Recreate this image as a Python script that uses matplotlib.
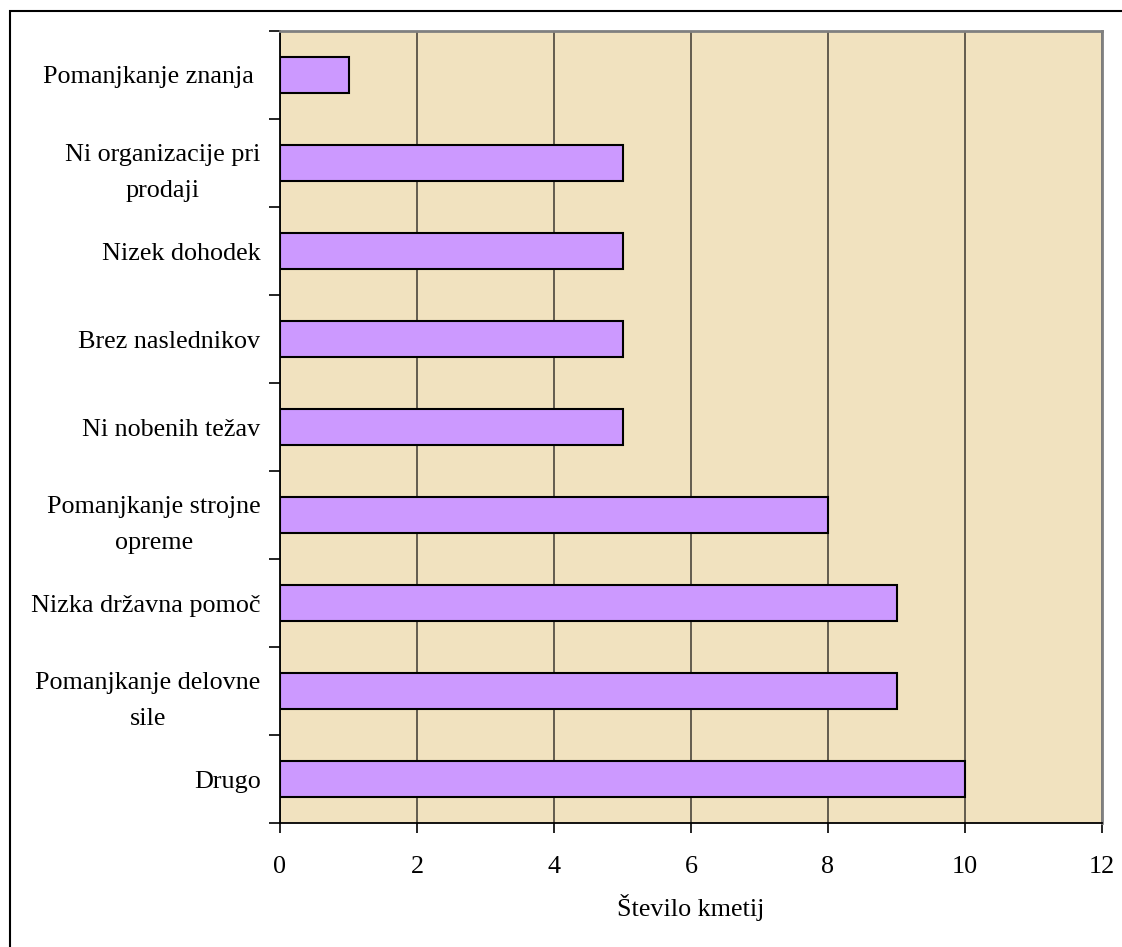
import matplotlib
matplotlib.use("Agg")
import matplotlib.pyplot as plt
from matplotlib.patches import Rectangle

plt.rcParams['font.family'] = ['Liberation Serif', 'DejaVu Serif']

categories = [
    "Drugo",
    "Pomanjkanje delovne\nsile",
    "Nizka državna pomoč",
    "Pomanjkanje strojne\nopreme",
    "Ni nobenih težav",
    "Brez naslednikov",
    "Nizek dohodek",
    "Ni organizacije pri\nprodaji",
    "Pomanjkanje znanja ",
]
values = [10, 9, 9, 8, 5, 5, 5, 5, 1]
xticks = [0, 2, 4, 6, 8, 10, 12]
xlabel = "Število kmetij"

W, H = 1122, 947
fig = plt.figure(figsize=(W / 100, H / 100), dpi=100)
fig.patch.set_facecolor("white")

# outer frame (left and top visible)
fig.add_artist(Rectangle((10 / W, -0.05), 1.2, (1 - 11 / H) + 0.05,
                         transform=fig.transFigure, fill=False,
                         edgecolor="black", linewidth=1.5))

left, right, top, bottom = 280, 1102, 31, 823
ax = fig.add_axes([left / W, 1 - bottom / H, (right - left) / W, (bottom - top) / H])
ax.set_facecolor("#F1E2BF")

ypos = list(range(len(categories)))
ax.barh(ypos, values, height=0.41, color="#CC99FF", edgecolor="black",
        linewidth=1.5, zorder=3)

ax.set_xlim(0, 12)
ax.set_ylim(-0.5, len(categories) - 0.5)
ax.set_xticks(xticks)
ax.set_xticklabels([str(v) for v in xticks], fontsize=18.8)
ax.xaxis.grid(True, color="#3c3830", linewidth=1.1, zorder=1)
ax.set_axisbelow(True)

ax.set_yticks(ypos)
ax.set_yticklabels(categories, fontsize=18.8, multialignment="center",
                   linespacing=1.85)
ax.tick_params(axis="y", which="major", length=0, pad=14)
ax.set_yticks([y - 0.5 for y in range(len(categories) + 1)], minor=True)
ax.tick_params(axis="y", which="minor", length=8, width=1.2, direction="out")
ax.tick_params(axis="x", length=7, width=1.2, direction="out", pad=17)

ax.set_xlabel(xlabel, fontsize=18.8, labelpad=11)

for s in ["left", "bottom"]:
    ax.spines[s].set_color("black")
    ax.spines[s].set_linewidth(1.3)
for s in ["top", "right"]:
    ax.spines[s].set_color("#808080")
    ax.spines[s].set_linewidth(2)

fig.savefig("out.png", dpi=100)
